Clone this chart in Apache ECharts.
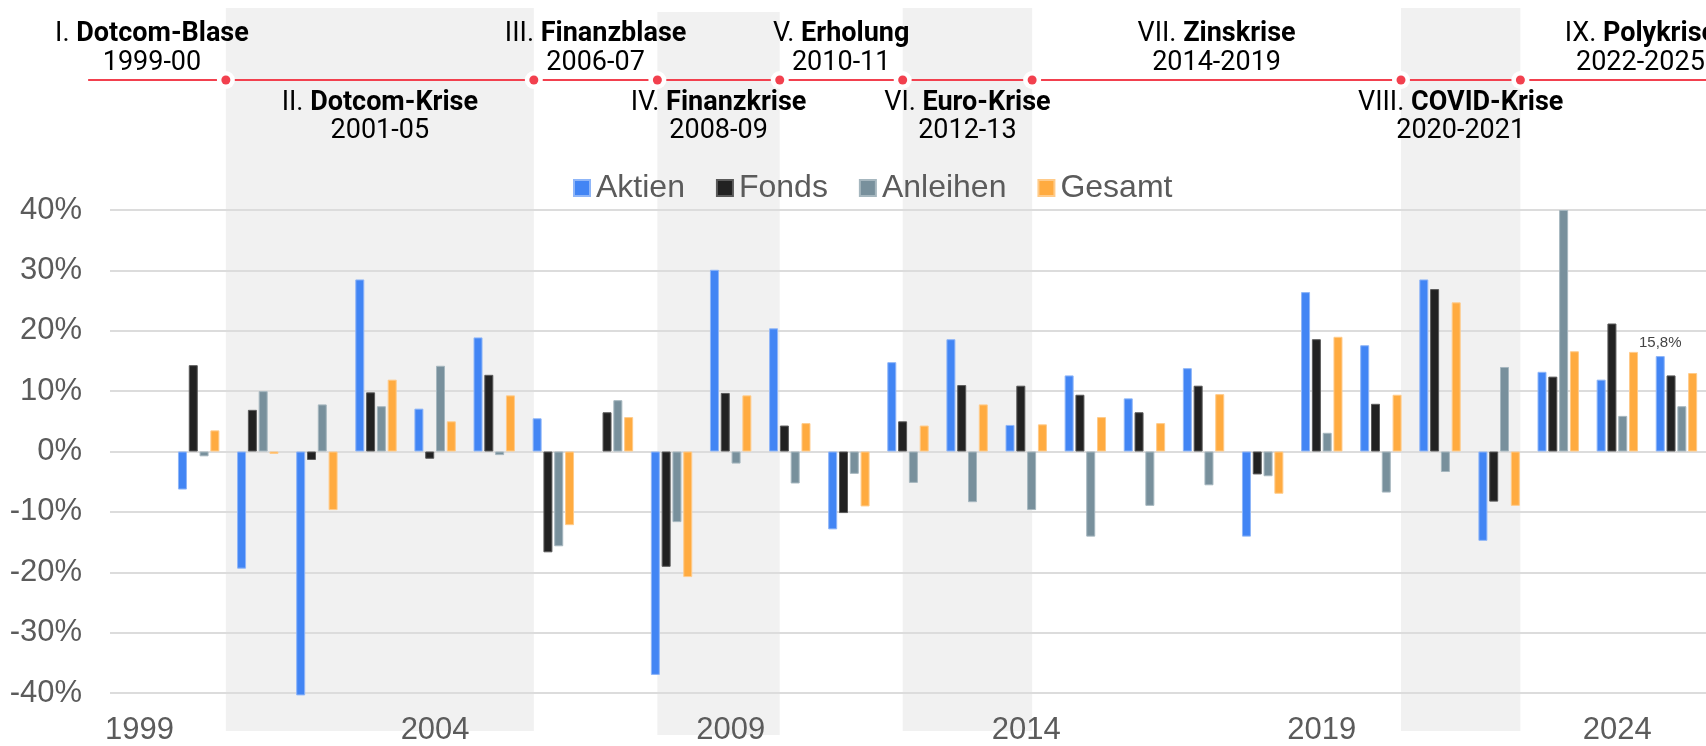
<!DOCTYPE html>
<html>
<head>
<meta charset="utf-8">
<title>Renditen nach Krisenphasen</title>
<script src="https://cdn.jsdelivr.net/npm/echarts@6/dist/echarts.min.js"></script>
<style>
  html, body { margin: 0; padding: 0; background: #fff; }
  #chart { width: 1706px; height: 746px; }
</style>
</head>
<body>
<div id="chart"></div>
<script>
// Kategorien: Jahre
const years = ['1999', '2000', '2001', '2002', '2003', '2004', '2005', '2006', '2007', '2008',
  '2009', '2010', '2011', '2012', '2013', '2014', '2015', '2016', '2017', '2018',
  '2019', '2020', '2021', '2022', '2023', '2024', '2025']

// Jahresrenditen in %
const aktien = [null, -6.3, -19.4, -40.4, 28.5, 7.1, 18.9, 5.5, null, -37.0,
  30.1, 20.4, -12.9, 14.8, 18.6, 4.4, 12.6, 8.8, 13.8, -14.1,
  26.4, 17.6, 28.5, -14.8, 13.2, 11.9, 15.8]
const fonds = [null, 14.3, 6.9, -1.4, 9.8, -1.2, 12.7, -16.7, 6.5, -19.1,
  9.7, 4.3, -10.2, 5.0, 11.0, 10.9, 9.4, 6.5, 10.9, -3.8,
  18.6, 7.9, 26.9, -8.3, 12.4, 21.2, 12.6]
const anleihen = [null, -0.8, 10.0, 7.8, 7.5, 14.2, -0.6, -15.7, 8.5, -11.7,
  -2.0, -5.3, -3.7, -5.2, -8.4, -9.7, -14.1, -9.0, -5.6, -4.1,
  3.1, -6.8, -3.4, 14.0, 40.0, 5.9, 7.5]
const gesamt = [null, 3.5, -0.4, -9.7, 11.9, 5.0, 9.3, -12.2, 5.7, -20.8,
  9.3, 4.7, -9.1, 4.3, 7.8, 4.5, 5.7, 4.7, 9.5, -7.0,
  19.0, 9.4, 24.7, -9.0, 16.6, 16.5, 13.0]

const yTicks = [-40, 40, 10] // min, max, interval

// Phasen der Zeitleiste
const phaseNums = ['I.', 'II.', 'III.', 'IV.', 'V.', 'VI.', 'VII.', 'VIII.', 'IX.']
const phaseNames = ['Dotcom-Blase', 'Dotcom-Krise', 'Finanzblase', 'Finanzkrise', 'Erholung',
  'Euro-Krise', 'Zinskrise', 'COVID-Krise', 'Polykrise']
const phaseYears = ['1999-00', '2001-05', '2006-07', '2008-09', '2010-11', '2012-13',
  '2014-2019', '2020-2021', '2022-2025']
// Grenzen der Phasen in (gebrochenen) Jahren
const phaseEdges = [1997.96, 2000.46, 2005.67, 2007.76, 2009.83, 2011.91, 2014.10, 2020.34, 2022.36, 2026.42]
const lineStart = 1998.13

const colors = ['#4285f4', '#222222', '#78909c', '#ffab40']
const borders = ['#8fb6f8', '#5a5a5a', '#a6b7bf', '#ffcb8a']
const labelColor = '#5b5b5b'
const red = '#f2404e'

function barSeries(name, data, i) {
  return {
    name: name,
    type: 'bar',
    data: data,
    barWidth: 9,
    barGap: '20%',
    clip: false,
    itemStyle: { color: colors[i], borderColor: borders[i], borderWidth: 1 }
  }
}

// letzter Aktien-Wert bekommt ein Label
const aktienData = aktien.map((v, i) => i === aktien.length - 1 ? {
  value: v,
  label: {
    show: true, position: 'top', distance: 6, fontSize: 15, color: '#444',
    formatter: p => String(p.value).replace('.', ',') + '%'
  }
} : v)

const chart = echarts.init(document.getElementById('chart'))

chart.setOption({
  animation: false,
  textStyle: { fontFamily: 'Liberation Sans, Arial, sans-serif' },
  color: colors,
  legend: {
    left: 573,
    top: 172,
    padding: 0,
    icon: 'rect',
    itemWidth: 16,
    itemHeight: 16,
    itemGap: 31,
    selectedMode: false,
    textStyle: { fontSize: 32, color: labelColor, padding: [0, 0, 0, 1] }
  },
  grid: { left: 110, right: 0, top: 210, bottom: 52 },
  xAxis: [
    {
      type: 'category',
      data: years,
      axisLine: { show: false, onZero: false },
      axisTick: { show: false },
      axisLabel: { interval: 4, fontSize: 31, color: labelColor, margin: 22 }
    },
    // versteckte Werteachse fuer die Zeitleiste
    { type: 'value', min: 1998.5, max: 2025.5, show: false }
  ],
  yAxis: {
    type: 'value',
    min: yTicks[0],
    max: yTicks[1],
    interval: yTicks[2],
    axisLine: { show: false },
    axisTick: { show: false },
    axisLabel: { formatter: '{value}%', fontSize: 31, color: labelColor, margin: 28 },
    splitLine: { lineStyle: { color: '#dcdcdc', width: 2 } }
  },
  series: [
    barSeries('Aktien', aktienData, 0),
    barSeries('Fonds', fonds, 1),
    barSeries('Anleihen', anleihen, 2),
    barSeries('Gesamt', gesamt, 3)
  ]
})

// Zeitleiste + Baender
const px = y => chart.convertToPixel({ xAxisIndex: 1 }, y)
const W = chart.getWidth()
const elements = []

for (let i = 1; i < phaseNames.length; i += 2) {
  const x1 = px(phaseEdges[i])
  const x2 = px(phaseEdges[i + 1])
  elements.push({
    type: 'rect', z: -10, silent: true,
    shape: { x: x1, y: i === 3 ? 12 : 8, width: x2 - x1, height: 723 },
    style: { fill: '#f1f1f1' }
  })
}

elements.push({
  type: 'line', z: 50, silent: true,
  shape: { x1: px(lineStart), y1: 80, x2: W, y2: 80 },
  style: { stroke: red, lineWidth: 2 }
})

for (let i = 1; i < phaseEdges.length - 1; i++) {
  const x = px(phaseEdges[i])
  elements.push({ type: 'circle', z: 51, silent: true, shape: { cx: x, cy: 80, r: 9 }, style: { fill: '#fff' } })
  elements.push({ type: 'circle', z: 52, silent: true, shape: { cx: x, cy: 80, r: 4.5 }, style: { fill: red } })
}

phaseNames.forEach((name, i) => {
  const cx = px((phaseEdges[i] + phaseEdges[i + 1]) / 2)
  const above = i % 2 === 0
  elements.push({
    type: 'text', z: 53, silent: true,
    x: cx, y: above ? 34 : 103,
    style: {
      text: phaseNums[i] + ' {b|' + name + '}',
      font: '27px Roboto', fill: '#000', align: 'center', verticalAlign: 'middle',
      rich: { b: { font: 'bold 27px Roboto', fill: '#000' } }
    }
  })
  elements.push({
    type: 'text', z: 53, silent: true,
    x: cx, y: above ? 63 : 131,
    style: {
      text: phaseYears[i], font: '27px Roboto', fill: '#000',
      align: 'center', verticalAlign: 'middle'
    }
  })
})

chart.setOption({ graphic: { elements: elements } })

window.addEventListener('resize', () => chart.resize())
</script>
</body>
</html>
